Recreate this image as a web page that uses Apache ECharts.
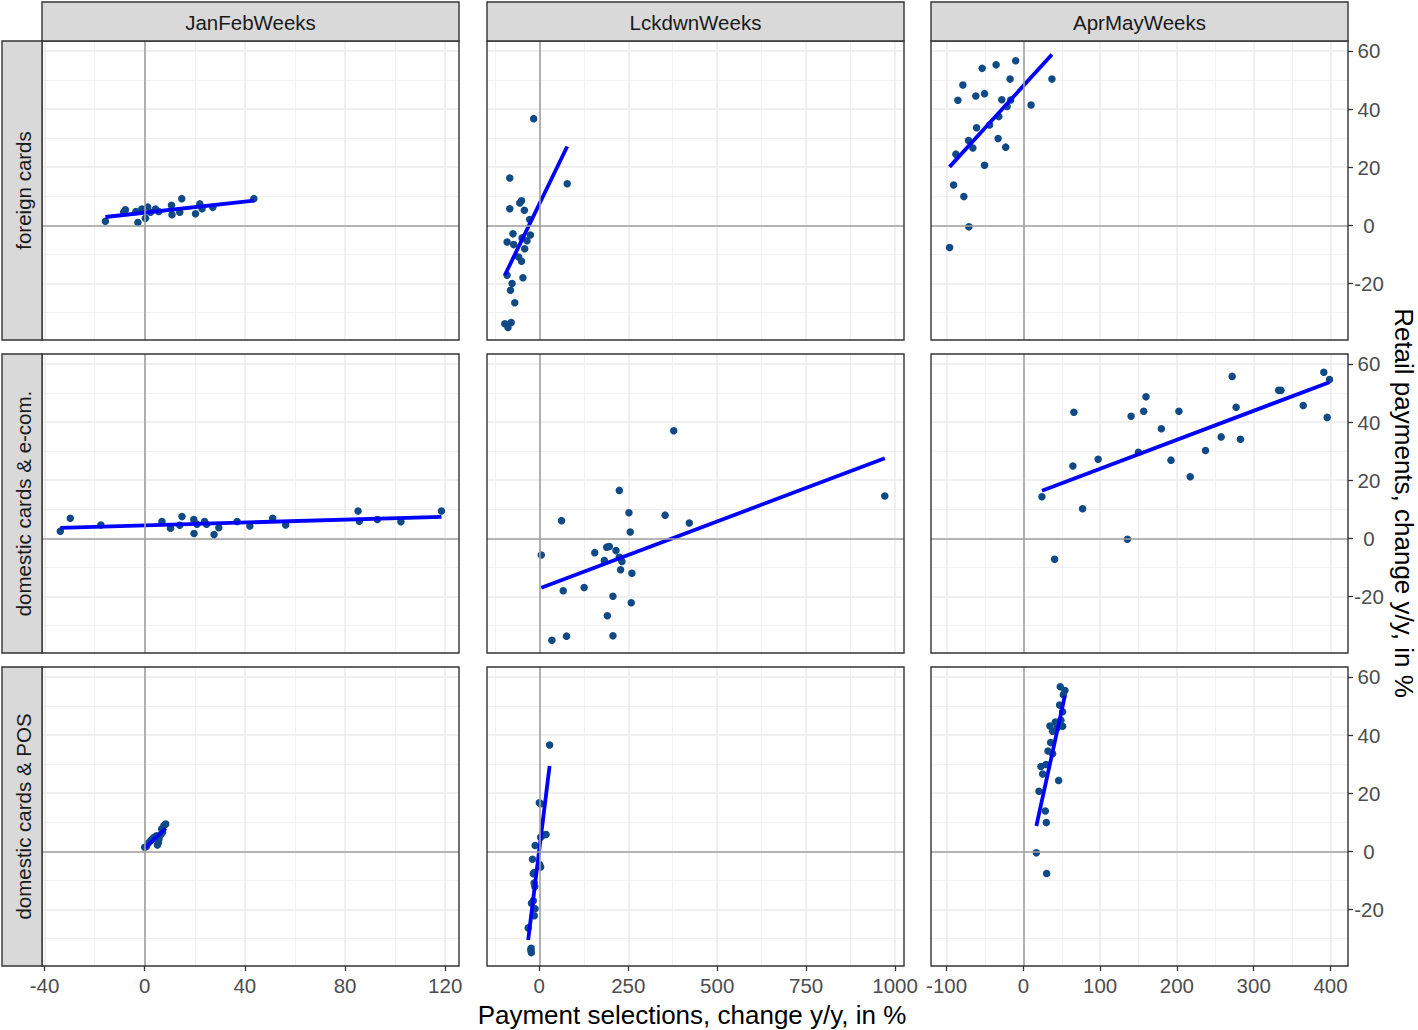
<!DOCTYPE html>
<html>
<head>
<meta charset="utf-8">
<script src="https://cdn.jsdelivr.net/npm/echarts@6/dist/echarts.min.js"></script>
<style>
  html, body { margin: 0; padding: 0; background: #fff; }
  #chart { width: 1418px; height: 1030px; }
</style>
</head>
<body>
<div id="chart"></div>
<script>
// facets
var columns = ['JanFebWeeks', 'LckdwnWeeks', 'AprMayWeeks'];
var rows = ['foreign cards', 'domestic cards & e-com.', 'domestic cards & POS'];

// tick labels / grid positions per column
var xTicks = [[-40, 0, 40, 80, 120], [0, 250, 500, 750, 1000], [-100, 0, 100, 200, 300, 400]];
var xMinor = [[-20, 20, 60, 100], [-125, 125, 375, 625, 875], [-50, 50, 150, 250, 350]];
var xLimits = [[-41.0, 125.5], [-147, 1025], [-120.3, 422.8]];
var yTicks = [-20, 0, 20, 40, 60];
var yMinor = [-30, -10, 10, 30, 50];
var yLimits = [-39.4, 63.4];

// points: [payment selections change, retail payments change]
var foreignJanFeb = [[-15.7,1.4],[-8.4,4.5],[-7.7,5.4],[-3.5,4.8],[-2.7,1.0],[-1.1,5.6],[0.3,2.5],[1.2,6.3],[2.3,4.5],[4.3,5.6],[5.6,4.8],[10.7,6.9],[10.9,3.7],[14.0,4.5],[14.8,9.2],[20.3,4.0],[22.0,7.4],[22.9,5.7],[27.2,6.2],[43.6,9.2]];
var foreignLckdwn = [[-15.9,36.7],[-83,16.3],[78.4,14.3],[-50,8.5],[-55,7.7],[-83,5.7],[-42,5.2],[-27,2.0],[-74,-2.9],[-25,-3.3],[-48.5,-4.3],[-34.5,-5.3],[-90.5,-5.7],[-72,-6.6],[-41,-8.0],[-58,-10.9],[-50,-12.3],[-90.5,-17.1],[-46,-18.0],[-76.5,-20.0],[-81,-22.3],[-69,-26.6],[-97,-33.8],[-79,-33.4],[-88,-35.1]];
var foreignAprMay = [[-10,56.6],[-35.5,55.2],[-53.7,54.0],[-17.3,50.3],[37.2,50.3],[-78.8,48.3],[-50.6,45.3],[-61.9,44.5],[-85.3,43.0],[-28.1,43.2],[-16.5,43.1],[-21.2,40.9],[10,41.4],[-32,37.4],[-44,34.5],[-61,33.6],[-71.4,29.2],[-32.9,29.9],[-65.8,26.6],[-23,26.9],[-87.9,24.5],[-50.6,20.7],[-90.9,13.9],[-77.5,9.9],[-71,-0.5],[-96.1,-7.6]];
var ecomJanFeb = [[-33.7,2.5],[-29.7,6.9],[-17.5,4.6],[6.9,5.8],[10.3,3.5],[14.0,4.5],[14.9,7.5],[19.6,6.5],[19.7,1.7],[20.9,4.9],[23.9,5.8],[24.7,4.9],[27.7,1.3],[29.6,3.7],[36.9,5.8],[42.0,4.3],[51.1,6.9],[56.3,4.6],[85.2,9.4],[85.7,5.9],[92.9,6.5],[102.3,5.7],[118.5,9.4]];
var ecomLckdwn = [[377.8,37.0],[224.8,16.5],[971,14.6],[62.5,6.1],[251.9,8.8],[353.5,8.0],[421.6,5.3],[255.6,2.2],[5.6,-5.7],[155.8,-4.9],[189.4,-3.0],[196.8,-2.8],[215.5,-4.2],[182.8,-7.6],[224.8,-6.5],[232.3,-7.9],[228.5,-10.8],[260.3,-12.0],[67.2,-18.0],[126,-16.9],[207,-19.9],[258.4,-22.1],[191.2,-26.6],[35.4,-35.0],[76.5,-33.6],[207,-33.5]];
var ecomAprMay = [[391.3,57.1],[398.7,54.6],[271.9,55.7],[332.5,50.9],[335.5,50.9],[159.7,48.7],[65.8,43.4],[140.3,42.0],[156.7,43.7],[202.6,43.7],[277.1,45.1],[364.5,45.7],[395.7,41.6],[179.7,37.7],[257.6,34.9],[282.7,34.1],[149.8,29.6],[237.2,30.2],[97.4,27.2],[64.5,24.9],[192.2,26.9],[217.3,21.2],[24.2,14.3],[77.1,10.2],[135.5,-0.3],[40.7,-7.2]];
var posJanFeb = [[0,1.4],[0.7,1.7],[1.5,2.9],[2.4,3.7],[3.1,4.3],[3.7,4.8],[4.7,5.4],[5.1,2.2],[5.5,3.1],[5.7,4.3],[6.4,5.7],[6.8,7.7],[7.1,6.6],[7.7,8.9],[8.4,9.4]];
var posLckdwn = [[28.9,36.6],[0,16.7],[4,16.4],[19,5.8],[11.3,5.6],[3.8,4.9],[-11.7,2.0],[-19.2,-2.7],[0.9,-4.5],[3.8,-5.4],[-14.5,-7.3],[-16.9,-7.7],[-14.5,-10.9],[-12.6,-12.1],[-22,-17.8],[-16.9,-17.0],[-12,-19.7],[-14,-22.1],[-31.3,-26.3],[-23,-33.3],[-22.4,-34.8],[-24,-33.9]];
var posAprMay = [[48,56.6],[54.1,55.3],[52,53.9],[47.2,50.3],[51.1,48],[48.9,45.1],[41.6,44.5],[34.6,43.1],[38.1,41.3],[51.1,43],[44,42.5],[35.5,37.4],[32,34.5],[38.1,33.6],[22.9,29.2],[29.4,29.9],[25.1,26.6],[45.9,24.4],[20.3,20.7],[28.6,13.9],[29.9,9.9],[16.9,-0.5],[30.3,-7.6]];

var panels = [
  [foreignJanFeb, foreignLckdwn, foreignAprMay],
  [ecomJanFeb, ecomLckdwn, ecomAprMay],
  [posJanFeb, posLckdwn, posAprMay]
];

var FONT = '"Liberation Sans", Arial, sans-serif';
var colLeft = [42, 487, 931], colW = 417;
var rowTop = [41, 354, 667], rowH = 299;

// least squares line over the x range of the points
function lmLine(pts) {
  var n = pts.length, mx = 0, my = 0, sxx = 0, sxy = 0, lo = Infinity, hi = -Infinity;
  pts.forEach(function (p) { mx += p[0] / n; my += p[1] / n; lo = Math.min(lo, p[0]); hi = Math.max(hi, p[0]); });
  pts.forEach(function (p) { sxx += (p[0] - mx) * (p[0] - mx); sxy += (p[0] - mx) * (p[1] - my); });
  var b = sxy / sxx, a = my - b * mx;
  return [[lo, a + b * lo], [hi, a + b * hi]];
}

var grids = [], xAxes = [], yAxes = [], series = [], graphics = [];

for (var r = 0; r < 3; r++) {
  for (var c = 0; c < 3; c++) {
    var g = r * 3 + c;
    grids.push({ left: colLeft[c], top: rowTop[r], width: colW, height: rowH, show: true, backgroundColor: '#fff', borderWidth: 0 });
    var bottom = r === 2, right = c === 2;
    xAxes.push({
      type: 'value', gridIndex: g, min: xLimits[c][0], max: xLimits[c][1], position: 'bottom',
      axisLine: { show: false, onZero: false },
      axisTick: { show: bottom, customValues: xTicks[c], length: 5, lineStyle: { color: '#333', width: 1.3 } },
      axisLabel: { show: bottom, customValues: xTicks[c], color: '#4D4D4D', fontSize: 20.5, margin: 9, fontFamily: FONT,
        formatter: function (v) { return String(v); } },
      splitLine: { show: true, lineStyle: { color: '#EBEBEB', width: 1.5 } }
    });
    xAxes.push({
      type: 'value', gridIndex: g, min: xLimits[c][0], max: xLimits[c][1], position: 'bottom',
      axisLine: { show: false, onZero: false },
      axisTick: { show: false, customValues: xMinor[c] },
      axisLabel: { show: false },
      splitLine: { show: true, lineStyle: { color: '#EFEFEF', width: 0.9 } }
    });
    yAxes.push({
      type: 'value', gridIndex: g, min: yLimits[0], max: yLimits[1], position: 'right',
      axisLine: { show: false, onZero: false },
      axisTick: { show: right, customValues: yTicks, length: 5, lineStyle: { color: '#333', width: 1.3 } },
      axisLabel: { show: right, customValues: yTicks, color: '#4D4D4D', fontSize: 20.5, margin: 21, fontFamily: FONT, align: 'center' },
      splitLine: { show: true, lineStyle: { color: '#EBEBEB', width: 1.5 } }
    });
    yAxes.push({
      type: 'value', gridIndex: g, min: yLimits[0], max: yLimits[1], position: 'right',
      axisLine: { show: false, onZero: false },
      axisTick: { show: false, customValues: yMinor },
      axisLabel: { show: false },
      splitLine: { show: true, lineStyle: { color: '#EFEFEF', width: 0.9 } }
    });

    var pts = panels[r][c];
    // zero reference lines
    series.push({
      type: 'line', xAxisIndex: 2 * g, yAxisIndex: 2 * g, data: [], silent: true, z: 1,
      markLine: {
        silent: true, symbol: 'none', animation: false, label: { show: false },
        lineStyle: { color: '#A0A0A0', width: 1.6, type: 'solid' },
        data: [{ xAxis: 0 }, { yAxis: 0 }]
      }
    });
    series.push({
      type: 'scatter', xAxisIndex: 2 * g, yAxisIndex: 2 * g, data: pts, z: 3,
      symbolSize: 7.5, itemStyle: { color: '#104A86', opacity: 1 }, silent: true
    });
    series.push({
      type: 'line', xAxisIndex: 2 * g, yAxisIndex: 2 * g, data: lmLine(pts), z: 4,
      showSymbol: false, symbol: 'none', silent: true,
      lineStyle: { color: '#0000FF', width: 3.8 }
    });

    // panel border
    graphics.push({ type: 'rect', z: 100, silent: true, shape: { x: colLeft[c], y: rowTop[r], width: colW, height: rowH },
      style: { fill: 'none', stroke: '#333333', lineWidth: 1.4 } });
  }
}

// column strips
columns.forEach(function (name, c) {
  graphics.push({ type: 'rect', z: 100, shape: { x: colLeft[c], y: 2, width: colW, height: rowTop[0] - 2 },
    style: { fill: '#D9D9D9', stroke: '#333333', lineWidth: 1.4 } });
  graphics.push({ type: 'text', z: 101, x: colLeft[c] + colW / 2, y: (2 + rowTop[0]) / 2 + 1,
    style: { text: name, fill: '#1A1A1A', font: '20.5px ' + FONT, align: 'center', verticalAlign: 'middle' } });
});
// row strips
rows.forEach(function (name, r) {
  graphics.push({ type: 'rect', z: 100, shape: { x: 2, y: rowTop[r], width: colLeft[0] - 2, height: rowH },
    style: { fill: '#D9D9D9', stroke: '#333333', lineWidth: 1.4 } });
  graphics.push({ type: 'text', z: 101, x: (2 + colLeft[0]) / 2 + 1, y: rowTop[r] + rowH / 2, rotation: Math.PI / 2,
    style: { text: name, fill: '#1A1A1A', font: '20.5px ' + FONT, align: 'center', verticalAlign: 'middle' } });
});
// axis titles
graphics.push({ type: 'text', z: 101, x: 692, y: 1015,
  style: { text: 'Payment selections, change y/y, in %', fill: '#000', font: '26px ' + FONT, align: 'center', verticalAlign: 'middle' } });
graphics.push({ type: 'text', z: 101, x: 1404, y: 503, rotation: -Math.PI / 2,
  style: { text: 'Retail payments, change y/y, in %', fill: '#000', font: '26px ' + FONT, align: 'center', verticalAlign: 'middle' } });

var chart = echarts.init(document.getElementById('chart'), null, { renderer: 'svg' });
chart.setOption({
  animation: false,
  backgroundColor: '#fff',
  grid: grids,
  xAxis: xAxes,
  yAxis: yAxes,
  series: series,
  graphic: { elements: graphics }
});
</script>
</body>
</html>
